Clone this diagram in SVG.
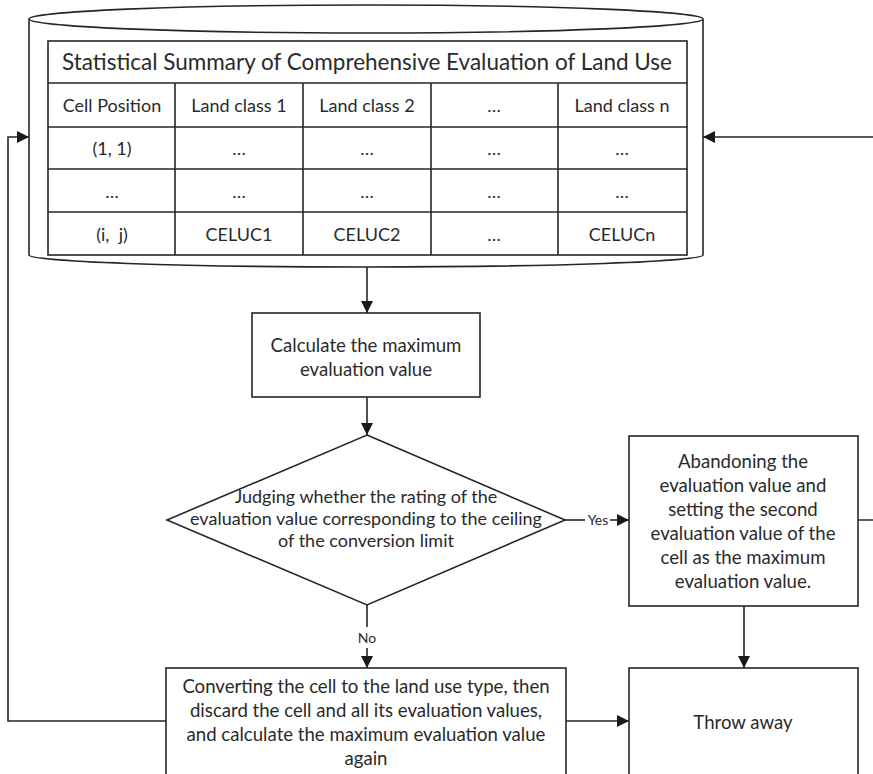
<svg xmlns="http://www.w3.org/2000/svg" width="873" height="774" viewBox="0 0 873 774">
<style>
.s{fill:#fff;stroke:#262626;stroke-width:1.6}
.c{fill:none;stroke:#262626;stroke-width:1.6}
.t{font-family:Lato,"Open Sans",sans-serif;fill:#2a2a2a;text-anchor:middle}
.tt{font-size:22.5px}
.tc{font-size:18px}
.tb{font-size:18.6px}
.td{font-size:18px}
.tl{font-size:14px}
</style>
<defs>
<marker id="ah" viewBox="0 0 12 12" refX="12" refY="6" markerWidth="12" markerHeight="12" markerUnits="userSpaceOnUse" orient="auto">
<path d="M0,0 L12,6 L0,12 Z" fill="#1a1a1a"/>
</marker>
</defs>
<rect width="873" height="774" fill="#fff"/>
<g id="db">
<path class="s" d="M29,19 L29,255 A337,12 0 0 0 703,255 L703,19"/>
<ellipse class="s" cx="366" cy="19" rx="337" ry="14"/>
<rect class="s" x="48" y="41" width="639" height="214"/>
<g class="c">
<line x1="48" y1="83" x2="687" y2="83"/>
<line x1="48" y1="127" x2="687" y2="127"/>
<line x1="48" y1="169" x2="687" y2="169"/>
<line x1="48" y1="212" x2="687" y2="212"/>
<line x1="175" y1="83" x2="175" y2="255"/>
<line x1="303" y1="83" x2="303" y2="255"/>
<line x1="431" y1="83" x2="431" y2="255"/>
<line x1="558" y1="83" x2="558" y2="255"/>
</g>
<text class="t tt" x="367" y="70">Statistical Summary of Comprehensive Evaluation of Land Use</text>
<g class="t tc">
<text x="112" y="112">Cell Position</text>
<text x="239" y="112">Land class 1</text>
<text x="367" y="112">Land class 2</text>
<text x="494" y="112">…</text>
<text x="622" y="112">Land class n</text>
<text x="112" y="155">(1, 1)</text>
<text x="239" y="155">…</text>
<text x="367" y="155">…</text>
<text x="494" y="155">…</text>
<text x="622" y="155">…</text>
<text x="112" y="198">…</text>
<text x="239" y="198">…</text>
<text x="367" y="198">…</text>
<text x="494" y="198">…</text>
<text x="622" y="198">…</text>
<text x="112" y="241" xml:space="preserve">(i,  j)</text>
<text x="239" y="241">CELUC1</text>
<text x="367" y="241">CELUC2</text>
<text x="494" y="241">…</text>
<text x="622" y="241">CELUCn</text>
</g>
</g>
<g id="calc">
<rect class="s" x="252" y="313" width="228" height="84"/>
<text class="t tb" x="366" y="352">Calculate the maximum</text>
<text class="t tb" x="366" y="376">evaluation value</text>
</g>
<g id="judge">
<path class="s" d="M367,435 L565,520 L367,605 L167,520 Z"/>
<text class="t td" x="366" y="503">Judging whether the rating of the</text>
<text class="t td" x="366" y="525">evaluation value corresponding to the ceiling</text>
<text class="t td" x="366" y="547">of the conversion limit</text>
</g>
<g id="abandon">
<rect class="s" x="629" y="436" width="229" height="170"/>
<g class="t tb">
<text x="743" y="468">Abandoning the</text>
<text x="743" y="492">evaluation value and</text>
<text x="743" y="516">setting the second</text>
<text x="743" y="540">evaluation value of the</text>
<text x="743" y="564">cell as the maximum</text>
<text x="743" y="588">evaluation value.</text>
</g>
</g>
<g id="convert">
<rect class="s" x="166" y="668" width="400" height="115"/>
<g class="t tb">
<text x="366" y="693">Converting the cell to the land use type, then</text>
<text x="366" y="717">discard the cell and all its evaluation values,</text>
<text x="366" y="741">and calculate the maximum evaluation value</text>
<text x="366" y="765">again</text>
</g>
</g>
<g id="throw">
<rect class="s" x="629" y="668" width="229" height="115"/>
<text class="t tb" x="743" y="729">Throw away</text>
</g>
<g id="connectors">
<path class="c" d="M367,267 L367,313" marker-end="url(#ah)"/>
<path class="c" d="M367,397 L367,435" marker-end="url(#ah)"/>
<path class="c" d="M565,520 L585,520"/>
<path class="c" d="M610,520 L629,520" marker-end="url(#ah)"/>
<text class="t tl" x="598" y="525">Yes</text>
<path class="c" d="M367,605 L367,627"/>
<text class="t tl" x="367" y="643">No</text>
<path class="c" d="M367,648 L367,668" marker-end="url(#ah)"/>
<path class="c" d="M744,606 L744,668" marker-end="url(#ah)"/>
<path class="c" d="M566,721 L629,721" marker-end="url(#ah)"/>
<path class="c" d="M166,721 L8,721 L8,137 L29,137" marker-end="url(#ah)"/>
<path class="c" d="M858,520 L877,520 L877,137 L703,137" marker-end="url(#ah)"/>
</g>
</svg>
